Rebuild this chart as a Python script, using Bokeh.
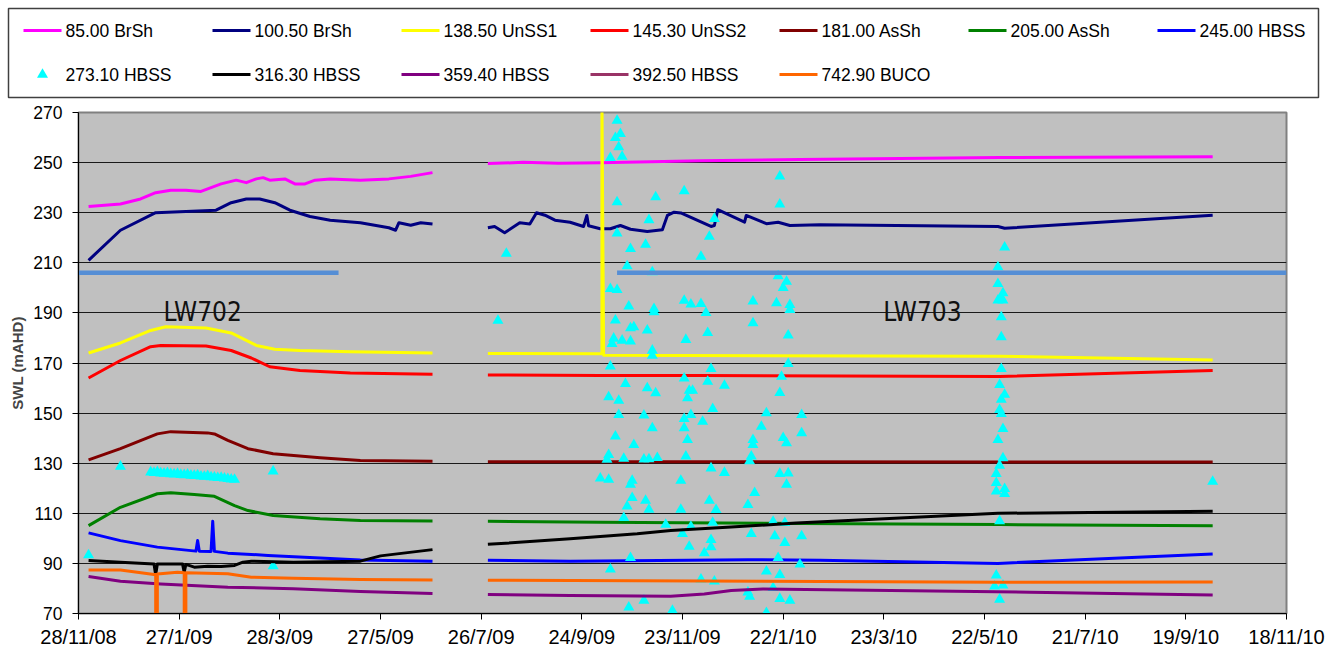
import numpy as np
import pandas as pd
from bokeh.core.properties import value
from bokeh.embed import file_html
from bokeh.layouts import column
from bokeh.models import FixedTicker, Label, Range1d
from bokeh.plotting import figure
from bokeh.resources import INLINE

# Standing water level (SWL, mAHD) records for the piezometer at each sensor depth.
START = pd.Timestamp("2008-11-28")
END = pd.Timestamp("2010-11-18")

tick_dates = ["2008-11-28", "2009-01-27", "2009-03-28", "2009-05-27", "2009-07-26",
              "2009-09-24", "2009-11-23", "2010-01-22", "2010-03-23", "2010-05-22",
              "2010-07-21", "2010-09-19", "2010-11-18"]
tick_labels = ["28/11/08", "27/1/09", "28/3/09", "27/5/09", "26/7/09", "24/9/09",
               "23/11/09", "22/1/10", "23/3/10", "22/5/10", "21/7/10", "19/9/10", "18/11/10"]
swl_ticks = [70, 90, 110, 130, 150, 170, 190, 210, 230, 250, 270]

GAP = (None, None)

brsh85 = [("2008-12-04", 232.5), ("2008-12-23", 233.5), ("2009-01-04", 235.5), ("2009-01-13", 238.0),
          ("2009-01-22", 239.0), ("2009-01-31", 239.0), ("2009-02-09", 238.5), ("2009-02-15", 240.0),
          ("2009-02-21", 241.5), ("2009-03-02", 243.0), ("2009-03-08", 242.0), ("2009-03-14", 243.5),
          ("2009-03-18", 244.0), ("2009-03-22", 243.0), ("2009-03-31", 243.5), ("2009-04-06", 241.5),
          ("2009-04-12", 241.5), ("2009-04-18", 243.0), ("2009-04-27", 243.5), ("2009-05-15", 243.0),
          ("2009-06-01", 243.5), ("2009-06-14", 244.5), ("2009-06-27", 246.0), GAP,
          ("2009-07-30", 249.6), ("2009-08-20", 250.1), ("2009-09-10", 249.7), ("2009-10-05", 249.9),
          ("2009-12-04", 250.7), ("2010-02-01", 251.2), ("2010-05-31", 252.0), ("2010-10-05", 252.3)]

brsh100 = [("2008-12-04", 211.0), ("2008-12-23", 223.0), ("2009-01-13", 230.0), ("2009-01-31", 230.5),
           ("2009-02-18", 231.0), ("2009-02-27", 234.0), ("2009-03-08", 235.5), ("2009-03-16", 235.5),
           ("2009-03-25", 234.0), ("2009-04-03", 231.0), ("2009-04-15", 228.5), ("2009-04-27", 227.0),
           ("2009-05-15", 226.0), ("2009-06-01", 224.0), ("2009-06-05", 223.0), ("2009-06-07", 226.0),
           ("2009-06-14", 225.0), ("2009-06-20", 226.0), ("2009-06-27", 225.5), GAP,
           ("2009-07-30", 224.0), ("2009-08-03", 224.5), ("2009-08-09", 222.0), ("2009-08-18", 226.0),
           ("2009-08-24", 225.5), ("2009-08-28", 230.0), ("2009-09-02", 229.0), ("2009-09-08", 227.0),
           ("2009-09-17", 226.2), ("2009-09-25", 224.5), ("2009-09-27", 228.9), ("2009-09-28", 224.8),
           ("2009-10-05", 223.6), ("2009-10-11", 223.6), ("2009-10-17", 224.9), ("2009-10-23", 223.4),
           ("2009-11-02", 222.5), ("2009-11-11", 223.2), ("2009-11-14", 228.9), ("2009-11-18", 230.2),
           ("2009-11-22", 229.9), ("2009-12-10", 224.5), ("2009-12-12", 224.9), ("2009-12-14", 231.2),
           ("2009-12-30", 226.2), ("2009-12-31", 228.9), ("2010-01-12", 225.6), ("2010-01-19", 226.2),
           ("2010-01-26", 224.9), ("2010-02-13", 225.2), ("2010-05-30", 224.5), ("2010-06-03", 223.8),
           ("2010-10-05", 229.0)]

unss1 = [("2008-12-04", 174.0), ("2008-12-23", 178.0), ("2009-01-10", 183.0), ("2009-01-19", 184.5),
         ("2009-02-12", 184.0), ("2009-02-27", 182.0), ("2009-03-14", 177.0), ("2009-03-25", 175.5),
         ("2009-04-09", 175.0), ("2009-05-09", 174.5), ("2009-06-27", 174.0), GAP,
         ("2009-07-30", 173.8), ("2009-10-06", 173.7), ("2009-10-06", 275.0), ("2009-10-07", 173.1),
         ("2010-05-31", 172.7), ("2010-10-05", 171.2)]

unss2 = [("2008-12-04", 164.0), ("2008-12-23", 171.0), ("2009-01-10", 176.5), ("2009-01-16", 177.0),
         ("2009-02-12", 176.8), ("2009-02-27", 175.0), ("2009-03-11", 172.0), ("2009-03-22", 168.5),
         ("2009-04-09", 167.0), ("2009-05-09", 166.0), ("2009-06-27", 165.5), GAP,
         ("2009-07-30", 165.2), ("2009-10-05", 165.0), ("2009-12-04", 165.0), ("2010-05-31", 164.6),
         ("2010-10-05", 167.0)]

assh181 = [("2008-12-04", 131.3), ("2008-12-23", 135.8), ("2009-01-14", 141.7), ("2009-01-22", 142.6),
           ("2009-02-13", 142.1), ("2009-02-17", 141.7), ("2009-02-25", 139.1), ("2009-03-09", 135.8),
           ("2009-03-24", 133.8), ("2009-04-21", 132.2), ("2009-05-15", 131.1), ("2009-06-27", 130.8), GAP,
           ("2009-07-30", 130.6), ("2010-10-05", 130.5)]

assh205 = [("2008-12-04", 105.1), ("2008-12-23", 112.4), ("2009-01-14", 117.8), ("2009-01-22", 118.2),
           ("2009-02-05", 117.5), ("2009-02-17", 116.8), ("2009-03-01", 113.1), ("2009-03-09", 111.1),
           ("2009-03-24", 109.1), ("2009-04-21", 107.8), ("2009-05-15", 107.1), ("2009-06-27", 106.9), GAP,
           ("2009-07-30", 106.8), ("2009-10-05", 106.4), ("2010-02-01", 105.9), ("2010-05-31", 105.5),
           ("2010-10-05", 105.0)]

hbss245 = [("2008-12-04", 102.2), ("2008-12-23", 99.1), ("2009-01-14", 96.5), ("2009-02-06", 94.9),
           ("2009-02-07", 99.1), ("2009-02-08", 94.9), ("2009-02-15", 94.8), ("2009-02-16", 106.8),
           ("2009-02-17", 94.8), ("2009-02-25", 94.1), ("2009-03-21", 93.2), ("2009-04-21", 92.2),
           ("2009-05-15", 91.4), ("2009-06-27", 90.9), GAP,
           ("2009-07-30", 91.3), ("2009-09-17", 90.9), ("2010-01-01", 91.5), ("2010-02-13", 91.3),
           ("2010-05-30", 90.0), ("2010-10-05", 93.8)]

hbss273 = [("2008-12-04", 93.3), ("2008-12-23", 128.7),
           ("2009-01-10", 126.4), ("2009-01-12", 126.2), ("2009-01-14", 126.5), ("2009-01-16", 126.0),
           ("2009-01-18", 125.9), ("2009-01-20", 126.1), ("2009-01-22", 125.7), ("2009-01-24", 125.6),
           ("2009-01-26", 125.8), ("2009-01-28", 125.4), ("2009-01-30", 125.3), ("2009-02-01", 125.5),
           ("2009-02-03", 125.1), ("2009-02-05", 125.0), ("2009-02-07", 125.2), ("2009-02-09", 124.8),
           ("2009-02-11", 124.7), ("2009-02-13", 124.9), ("2009-02-15", 124.5), ("2009-02-17", 124.4),
           ("2009-02-19", 124.2), ("2009-02-21", 124.3), ("2009-02-23", 124.0), ("2009-02-25", 123.8),
           ("2009-02-27", 123.6), ("2009-03-01", 123.5),
           ("2009-03-24", 126.8), ("2009-03-24", 88.9),
           ("2009-08-05", 186.9), ("2009-08-10", 213.7),
           ("2009-10-15", 266.8), ("2009-10-17", 261.5), ("2009-10-14", 259.9), ("2009-10-16", 256.2),
           ("2009-10-11", 251.9), ("2009-10-18", 252.4), ("2009-10-15", 234.2), ("2009-11-07", 236.2),
           ("2009-11-24", 238.6), ("2009-11-03", 227.1), ("2009-10-15", 221.8), ("2009-10-23", 215.6),
           ("2009-11-01", 217.3), ("2009-12-09", 220.5), ("2009-12-04", 212.5), ("2009-12-12", 227.6),
           ("2009-10-21", 208.7), ("2009-11-05", 206.3), ("2009-10-11", 199.6), ("2009-10-15", 199.2),
           ("2009-10-22", 192.6), ("2009-11-06", 191.6), ("2009-11-06", 190.3), ("2009-11-24", 194.9),
           ("2009-11-28", 193.4), ("2009-12-04", 193.6), ("2009-12-07", 190.0), ("2009-10-14", 187.0),
           ("2009-10-23", 183.9), ("2009-10-25", 184.3), ("2009-11-02", 183.0), ("2009-10-13", 179.8),
           ("2009-10-18", 179.0), ("2009-10-23", 178.7), ("2009-10-12", 177.7), ("2009-11-05", 175.0),
           ("2009-11-05", 173.0), ("2009-11-25", 179.3), ("2009-12-08", 182.0), ("2009-10-11", 168.7),
           ("2009-12-10", 167.7), ("2009-11-24", 163.9), ("2009-12-08", 162.6), ("2009-12-18", 161.0),
           ("2009-10-20", 161.7), ("2009-11-02", 160.0), ("2009-11-07", 158.0), ("2009-11-27", 159.0),
           ("2009-11-29", 159.0), ("2009-11-26", 156.0), ("2009-10-10", 156.4), ("2009-10-16", 155.0),
           ("2009-10-16", 149.3), ("2009-10-31", 149.1), ("2009-11-28", 149.3), ("2009-11-24", 147.7),
           ("2009-12-05", 146.6), ("2009-12-11", 151.7), ("2009-11-05", 144.0), ("2009-11-24", 144.0),
           ("2009-10-14", 140.7), ("2009-11-26", 139.3), ("2009-10-25", 137.3), ("2009-10-10", 133.3),
           ("2009-10-09", 131.4), ("2009-10-19", 131.8), ("2009-10-31", 131.5), ("2009-11-03", 131.6),
           ("2009-11-08", 132.1), ("2009-11-25", 132.7), ("2009-12-10", 128.0), ("2009-12-18", 126.2),
           ("2009-10-05", 124.0), ("2009-10-10", 123.5), ("2009-10-24", 123.1), ("2009-10-23", 121.5),
           ("2009-11-22", 123.1), ("2009-10-24", 116.2), ("2009-10-21", 112.8), ("2009-11-01", 115.1),
           ("2009-11-03", 111.5), ("2009-11-22", 111.5), ("2009-12-09", 115.1), ("2009-12-13", 111.4),
           ("2009-10-19", 108.2), ("2009-11-13", 105.5), ("2009-11-28", 104.7), ("2009-12-11", 106.3),
           ("2009-11-23", 101.8), ("2009-12-10", 99.4), ("2009-11-27", 96.7), ("2009-12-10", 96.5),
           ("2009-12-06", 94.1), ("2009-10-23", 92.2), ("2009-10-11", 87.6), ("2009-12-04", 83.6),
           ("2009-12-12", 82.8), ("2009-10-31", 75.2), ("2009-10-22", 72.5), ("2009-11-17", 71.2),
           ("2010-01-20", 244.5), ("2010-01-20", 233.3), ("2010-01-19", 204.7), ("2010-01-24", 202.5),
           ("2010-01-22", 200.0), ("2010-01-18", 193.9), ("2010-01-26", 193.2), ("2010-01-26", 191.2),
           ("2010-01-04", 194.6), ("2010-01-04", 185.9), ("2010-01-25", 181.0), ("2010-01-25", 169.7),
           ("2010-01-21", 164.6), ("2010-01-20", 158.1), ("2010-01-12", 150.0), ("2010-02-02", 149.3),
           ("2010-01-09", 144.6), ("2010-02-02", 142.0), ("2010-01-04", 139.3), ("2010-01-04", 137.3),
           ("2010-01-22", 140.1), ("2010-01-24", 138.0), ("2010-01-03", 132.7), ("2010-01-02", 130.8),
           ("2010-01-20", 125.8), ("2010-01-25", 126.0), ("2010-01-24", 121.5), ("2010-01-05", 118.2),
           ("2010-01-01", 113.4), ("2010-01-16", 106.7), ("2010-01-23", 106.2), ("2010-01-03", 101.8),
           ("2010-01-17", 100.9), ("2010-02-02", 100.9), ("2010-01-23", 98.2), ("2010-01-19", 92.2),
           ("2010-02-01", 89.6), ("2010-01-12", 86.8), ("2010-01-20", 85.4), ("2010-01-16", 80.2),
           ("2010-01-01", 78.5), ("2010-01-02", 76.8), ("2010-01-20", 75.9), ("2010-01-26", 75.2),
           ("2010-01-12", 70.3),
           ("2010-06-03", 216.2), ("2010-05-30", 208.3), ("2010-05-30", 201.6), ("2010-06-02", 197.9),
           ("2010-06-01", 195.6), ("2010-06-02", 195.0), ("2010-05-30", 195.0), ("2010-06-01", 188.3),
           ("2010-06-01", 180.3), ("2010-06-01", 167.7), ("2010-05-31", 161.3), ("2010-06-03", 157.4),
           ("2010-06-01", 155.4), ("2010-05-31", 151.3), ("2010-06-01", 149.7), ("2010-06-02", 143.7),
           ("2010-05-30", 139.3), ("2010-06-02", 132.0), ("2010-05-31", 129.1), ("2010-05-29", 125.8),
           ("2010-05-29", 122.2), ("2010-05-29", 118.8), ("2010-06-03", 119.8), ("2010-06-03", 117.8),
           ("2010-05-31", 106.9), ("2010-05-29", 85.2), ("2010-05-28", 80.8), ("2010-06-02", 81.2),
           ("2010-05-31", 75.6),
           ("2010-10-05", 122.7)]

hbss316 = [("2008-12-04", 91.2), ("2008-12-23", 90.5), ("2009-01-12", 89.8), ("2009-01-13", 85.5),
           ("2009-01-14", 89.8), ("2009-01-29", 89.8), ("2009-01-30", 86.5), ("2009-01-31", 89.6),
           ("2009-02-05", 88.5), ("2009-02-13", 88.9), ("2009-02-21", 88.8), ("2009-03-01", 89.2),
           ("2009-03-06", 90.5), ("2009-03-11", 90.9), ("2009-04-05", 90.5), ("2009-05-15", 90.9),
           ("2009-05-27", 93.0), ("2009-06-27", 95.5), GAP,
           ("2009-07-30", 97.6), ("2009-09-17", 99.8), ("2009-10-27", 101.8), ("2009-11-16", 103.1),
           ("2009-12-22", 104.5), ("2010-01-30", 106.1), ("2010-05-30", 110.0), ("2010-10-05", 110.8)]

hbss359 = [("2008-12-04", 84.8), ("2008-12-23", 82.9), ("2009-01-16", 81.8), ("2009-02-25", 80.5),
           ("2009-04-05", 79.9), ("2009-05-15", 78.8), ("2009-06-27", 78.0), GAP,
           ("2009-07-30", 77.6), ("2009-09-17", 77.2), ("2009-11-16", 76.9), ("2009-12-06", 77.8),
           ("2009-12-22", 79.2), ("2010-01-10", 79.8), ("2010-06-18", 78.5), ("2010-10-05", 77.4)]

hbss392 = []

buco742 = [("2008-12-04", 87.4), ("2008-12-23", 87.4), ("2009-01-12", 85.6), ("2009-01-13", 85.6),
           ("2009-01-13", 66.0), ("2009-01-14", 66.0), ("2009-01-14", 85.8), ("2009-01-26", 86.5),
           ("2009-01-30", 86.3), ("2009-01-30", 66.0), ("2009-01-31", 66.0), ("2009-01-31", 86.3),
           ("2009-02-25", 85.9), ("2009-03-11", 84.5), ("2009-04-05", 84.1), ("2009-05-15", 83.6),
           ("2009-06-27", 83.4), GAP,
           ("2009-07-30", 83.3), ("2009-12-04", 83.0), ("2010-05-31", 82.5), ("2010-10-05", 82.6)]

# Longwall panel markers and their names
lw702_span = [("2008-11-28", 206.0), ("2009-05-02", 206.0)]
lw703_span = [("2009-10-15", 206.0), ("2010-11-18", 206.0)]
panel_labels = [("LW702", "2009-02-10", 190.3), ("LW703", "2010-04-15", 190.3)]

series = [
    ("85.00 BrSh", "#FF00FF", brsh85, "line"),
    ("100.50 BrSh", "#000080", brsh100, "line"),
    ("138.50 UnSS1", "#FFFF00", unss1, "line"),
    ("145.30 UnSS2", "#FF0000", unss2, "line"),
    ("181.00 AsSh", "#800000", assh181, "line"),
    ("205.00 AsSh", "#008000", assh205, "line"),
    ("245.00 HBSS", "#0000FF", hbss245, "line"),
    ("273.10 HBSS", "#00FFFF", hbss273, "marker"),
    ("316.30 HBSS", "#000000", hbss316, "line"),
    ("359.40 HBSS", "#800080", hbss359, "line"),
    ("392.50 HBSS", "#993366", hbss392, "line"),
    ("742.90 BUCO", "#FF6600", buco742, "line"),
]


def day_of(d):
    return (pd.Timestamp(d) - START).days


def to_xy(obs):
    xs = [np.nan if d is None else day_of(d) for d, _ in obs]
    ys = [np.nan if v is None else v for _, v in obs]
    return xs, ys


FONT = "Liberation Sans"
NARROW_FONT = "DejaVu Sans Condensed, Liberation Sans"

# ---- main chart -------------------------------------------------------------
p = figure(width=1325, height=550, x_range=Range1d(0, day_of(END)), y_range=Range1d(70, 270),
           toolbar_location=None, output_backend="svg",
           min_border_left=78, min_border_right=39, min_border_top=12, min_border_bottom=37)
p.frame_align = False
p.background_fill_color = "#C0C0C0"
p.border_fill_color = "white"
p.outline_line_color = "#808080"
p.outline_line_width = 2

for label, color, obs, kind in series:
    if not obs:
        continue
    xs, ys = to_xy(obs)
    if kind == "marker":
        p.scatter(xs, ys, marker="triangle", size=11, fill_color=color, line_color=None)
    else:
        p.line(xs, ys, line_color=color, line_width=3, line_join="round")

for span in (lw702_span, lw703_span):
    xs, ys = to_xy(span)
    p.line(xs, ys, line_color="#558ED5", line_width=4.5)

for text, d, y in panel_labels:
    p.add_layout(Label(x=day_of(d), y=y, text=text, text_align="center", text_baseline="alphabetic",
                       text_font=NARROW_FONT, text_font_size="26px", text_color="#111111"))

x_ticks = [day_of(d) for d in tick_dates]
p.xaxis.ticker = FixedTicker(ticks=x_ticks)
p.xaxis.major_label_overrides = dict(zip(x_ticks, tick_labels))
p.xaxis.major_label_text_font = FONT
p.xaxis.major_label_text_font_size = "20px"
p.xaxis.major_label_standoff = 6

p.yaxis.ticker = FixedTicker(ticks=swl_ticks)
p.yaxis.major_label_text_font = FONT
p.yaxis.major_label_text_font_size = "17.5px"
p.yaxis.major_label_standoff = 10
p.yaxis.axis_label = "SWL (mAHD)"
p.yaxis.axis_label_text_font = FONT
p.yaxis.axis_label_text_font_style = "bold"
p.yaxis.axis_label_text_font_size = "15px"
p.yaxis.axis_label_standoff = 4

for ax in (p.xaxis, p.yaxis):
    ax.major_tick_out = 6
    ax.major_tick_in = 0
    ax.minor_tick_out = 0
    ax.minor_tick_in = 0
    ax.axis_line_color = "black"
    ax.major_tick_line_color = "black"
    ax.major_label_text_color = "black"

p.xgrid.visible = False
p.ygrid.grid_line_color = "#1a1a1a"
p.ygrid.grid_line_width = 1

# ---- legend strip -----------------------------------------------------------
leg = figure(width=1325, height=100, x_range=Range1d(0, 1325), y_range=Range1d(100, 0),
             toolbar_location=None, output_backend="svg", min_border=0,
             x_axis_location=None, y_axis_location=None)
leg.frame_align = False
leg.grid.visible = False
leg.outline_line_color = None
leg.background_fill_color = "white"
leg.border_fill_color = "white"

leg.quad(left=[8], right=[1318], top=[8], bottom=[97], fill_color=None,
         line_color="#404040", line_width=1.5)

col_x = [65, 254, 443, 632, 821, 1010, 1199]
row_y = [30, 74]

seg_x0, seg_x1, seg_y, seg_c = [], [], [], []
txt_x, txt_y, txt = [], [], []
for i, (label, color, obs, kind) in enumerate(series):
    cx, cy = col_x[i % 7], row_y[i // 7]
    if kind == "marker":
        leg.scatter([cx - 23], [cy], marker="triangle", size=11, fill_color=color, line_color=None)
    else:
        seg_x0.append(cx - 42)
        seg_x1.append(cx - 4)
        seg_y.append(cy)
        seg_c.append(color)
    txt_x.append(cx)
    txt_y.append(cy)
    txt.append(label)

leg.segment(x0=seg_x0, y0=seg_y, x1=seg_x1, y1=seg_y, line_color=seg_c, line_width=3)
leg.text(x=txt_x, y=txt_y, text=txt, text_font=value(FONT), text_font_size=value("17.5px"),
         text_baseline="middle", text_align="left", text_color="black")

layout = column(leg, p)
open("out.html", "w").write(file_html(layout, INLINE))
